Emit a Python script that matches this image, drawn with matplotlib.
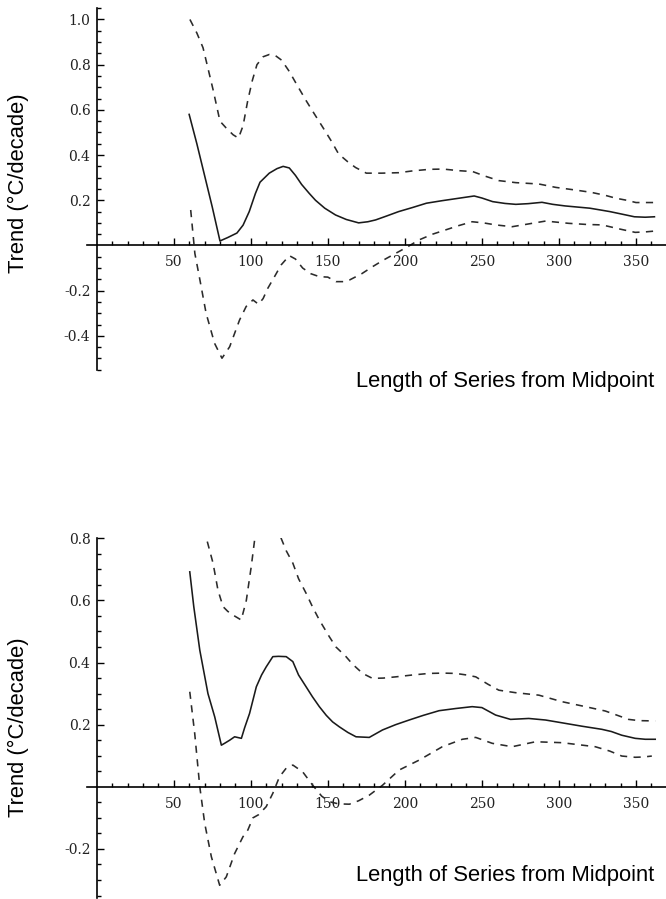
import numpy as np
import matplotlib
matplotlib.use('Agg')
import matplotlib.pyplot as plt
from matplotlib.ticker import FixedLocator, FuncFormatter

# Top panel - trend vs length of series (upper / central / lower estimate)
top_mid_x = [60, 65, 70, 75, 80, 85, 91, 95, 99, 103, 106, 112, 117, 121, 125, 129, 133, 138, 142, 148,
             155, 162, 170, 176, 181, 188, 196, 205, 214, 224, 235, 245, 250, 257, 265, 272, 280, 289,
             296, 304, 312, 320, 327, 333, 340, 349, 356, 362]
top_mid_y = [0.58, 0.45, 0.31, 0.17, 0.02, 0.035, 0.055, 0.09, 0.15, 0.23, 0.28, 0.32, 0.34, 0.35, 0.343,
             0.31, 0.27, 0.23, 0.20, 0.165, 0.135, 0.115, 0.10, 0.105, 0.113, 0.13, 0.15, 0.168, 0.187,
             0.198, 0.209, 0.219, 0.21, 0.194, 0.186, 0.182, 0.185, 0.191, 0.182, 0.175, 0.17, 0.165,
             0.157, 0.15, 0.14, 0.127, 0.125, 0.127]

top_up_x = [60.5, 65, 69, 72, 75.5, 80, 84, 88.5, 92, 95, 98, 101, 104, 108, 112, 116, 120, 125, 130, 136,
            141, 147, 152, 157, 163, 168, 175, 185, 196, 205, 216, 225, 235, 244, 252, 261, 272, 287,
            298, 311, 321, 330, 337, 344, 350, 356, 362]
top_up_y = [1.0, 0.94, 0.875, 0.79, 0.69, 0.55, 0.52, 0.49, 0.475, 0.53, 0.64, 0.73, 0.80, 0.835, 0.845,
            0.84, 0.82, 0.77, 0.71, 0.64, 0.585, 0.52, 0.465, 0.405, 0.37, 0.345, 0.32, 0.32, 0.322,
            0.33, 0.337, 0.338, 0.331, 0.327, 0.307, 0.287, 0.278, 0.272, 0.257, 0.245, 0.235, 0.222,
            0.209, 0.2, 0.19, 0.19, 0.19]

top_lo_x = [61, 63.7, 67, 71, 76.5, 81.3, 86.3, 92.7, 97, 101.4, 105, 108, 111, 115.4, 119.7, 125, 129,
            133.7, 139, 144.5, 150, 155.3, 160, 164, 172, 179, 186, 194, 202, 209, 218, 226.5, 235,
            243.7, 251, 259, 269.6, 280, 291.3, 306.3, 318, 328, 340, 349.5, 356, 362.5]
top_lo_y = [0.157, -0.035, -0.153, -0.30, -0.433, -0.499, -0.448, -0.33, -0.27, -0.241, -0.26, -0.235,
            -0.19, -0.138, -0.086, -0.045, -0.06, -0.10, -0.125, -0.138, -0.14, -0.16, -0.16, -0.153,
            -0.125, -0.094, -0.065, -0.035, -0.005, 0.024, 0.05, 0.069, 0.088, 0.105, 0.10, 0.091,
            0.083, 0.095, 0.108, 0.098, 0.093, 0.091, 0.072, 0.058, 0.06, 0.064]

# Bottom panel
bot_mid_x = [60.4, 63, 66.9, 72.2, 76.6, 80.9, 83, 86.3, 89.5, 93.9, 96, 99.2, 103.6, 107, 110, 114.3,
             118, 123, 127.3, 131, 135.9, 140, 144.5, 149, 153.1, 157.5, 163, 168.3, 176.9, 185.5, 194,
             202.8, 212, 222.2, 233, 243.7, 250, 258.9, 268.6, 280.4, 291.3, 302, 315, 327.9, 334,
             340.8, 349.5, 356, 362.5]
bot_mid_y = [0.692, 0.58, 0.44, 0.30, 0.225, 0.134, 0.14, 0.15, 0.161, 0.156, 0.19, 0.236, 0.322, 0.36,
             0.386, 0.419, 0.42, 0.419, 0.403, 0.36, 0.322, 0.29, 0.258, 0.23, 0.209, 0.193, 0.175,
             0.161, 0.159, 0.183, 0.2, 0.215, 0.23, 0.245, 0.252, 0.258, 0.255, 0.231, 0.217, 0.22,
             0.215, 0.206, 0.195, 0.185, 0.178, 0.166, 0.156, 0.153, 0.153]

bot_up_x = [60, 66, 71.2, 75.5, 78.7, 82, 85, 88.4, 93.8, 97.1, 100.3, 102.5, 106, 110, 114, 119.7, 123,
            127.3, 131, 135.9, 140, 144.5, 151, 155.3, 161.8, 166, 172.6, 179, 186, 194.2, 205, 215.7,
            225, 233, 240, 246, 254, 261, 271.8, 287, 302, 317.2, 330.1, 338, 345.2, 352, 362.5]
bot_up_y = [1.0, 0.9, 0.8, 0.72, 0.633, 0.58, 0.565, 0.553, 0.537, 0.60, 0.709, 0.795, 0.89, 0.93, 0.9,
            0.80, 0.76, 0.72, 0.67, 0.623, 0.58, 0.537, 0.483, 0.45, 0.419, 0.395, 0.365, 0.349, 0.35,
            0.354, 0.36, 0.365, 0.366, 0.365, 0.36, 0.354, 0.33, 0.311, 0.303, 0.295, 0.274, 0.258,
            0.244, 0.23, 0.217, 0.213, 0.212]

bot_lo_x = [60.4, 63.6, 66.9, 70.1, 74.4, 79.8, 84.1, 89.5, 94.9, 98.1, 101.4, 105, 110, 114.3, 118.6,
            123, 127.3, 133.7, 140.2, 146, 151, 157, 164, 170, 176.9, 185.5, 196.3, 209.3, 224.3, 237.3,
            246, 256.7, 269.6, 284.8, 302, 323.6, 333, 340.8, 349.5, 355, 360.3]
bot_lo_y = [0.306, 0.172, 0.0, -0.118, -0.225, -0.317, -0.29, -0.215, -0.161, -0.139, -0.1, -0.09,
            -0.064, -0.021, 0.032, 0.06, 0.07, 0.048, 0.005, -0.03, -0.048, -0.055, -0.056, -0.045,
            -0.027, 0.005, 0.054, 0.086, 0.129, 0.153, 0.159, 0.14, 0.129, 0.145, 0.142, 0.129, 0.115,
            0.099, 0.095, 0.096, 0.099]

x_major = [50, 100, 150, 200, 250, 300, 350]
x_minor = [v for v in range(10, 361, 10) if v % 50 != 0]

W, H = 666, 899
fig = plt.figure(figsize=(W / 100, H / 100), dpi=100)


def make_axes(top_px, bottom_px, ylim, y_major):
    left_px = 86.7
    ax = fig.add_axes([left_px / W, 1 - bottom_px / H, 1 - left_px / W, (bottom_px - top_px) / H])
    ax.patch.set_alpha(0)
    ax.set_xlim(-6.5, 369.5)
    ax.set_ylim(*ylim)
    ax.spines['top'].set_visible(False)
    ax.spines['right'].set_visible(False)
    ax.spines['left'].set_position(('data', 0))
    ax.spines['bottom'].set_position(('data', 0))
    ax.spines['left'].set_linewidth(1.2)
    ax.spines['bottom'].set_linewidth(1.2)
    # Mathematica style ticks: pointing into the plot, minor every 10 / 0.05
    y_minor = [round(v, 2) for v in np.arange(-0.55, 1.06, 0.05)
               if ylim[0] - 1e-6 <= v <= ylim[1] + 1e-6 and abs(v) > 1e-6
               and min(abs(v - m) for m in y_major) > 1e-6]
    ax.xaxis.set_major_locator(FixedLocator(x_major))
    ax.xaxis.set_minor_locator(FixedLocator(x_minor))
    ax.yaxis.set_major_locator(FixedLocator(y_major))
    ax.yaxis.set_minor_locator(FixedLocator(y_minor))
    ax.yaxis.set_major_formatter(FuncFormatter(lambda v, p: '%.1f' % v))
    ax.tick_params(which='both', direction='in', width=1.0, colors='black')
    ax.tick_params(which='major', length=5.2)
    ax.tick_params(which='minor', length=3)
    ax.tick_params(axis='x', which='major', pad=7)
    ax.tick_params(axis='y', which='major', pad=4.5)
    for lab in ax.get_xticklabels() + ax.get_yticklabels():
        lab.set_fontfamily('DejaVu Serif')
        lab.set_fontsize(10)
        lab.set_color('#222222')
    return ax


def draw(ax, mid_x, mid_y, up_x, up_y, lo_x, lo_y):
    ax.plot(mid_x, mid_y, color='#1a1a1a', lw=1.15)
    ax.plot(up_x, up_y, color='#2b2b2b', lw=1.15, dashes=(4.5, 4))
    ax.plot(lo_x, lo_y, color='#2b2b2b', lw=1.15, dashes=(4.5, 4))


ax1 = make_axes(7.5, 370, (-0.551, 1.053), [-0.4, -0.2, 0.2, 0.4, 0.6, 0.8, 1.0])
draw(ax1, top_mid_x, top_mid_y, top_up_x, top_up_y, top_lo_x, top_lo_y)

ax2 = make_axes(538.3, 898, (-0.358, 0.8), [-0.2, 0.2, 0.4, 0.6, 0.8])
draw(ax2, bot_mid_x, bot_mid_y, bot_up_x, bot_up_y, bot_lo_x, bot_lo_y)

# Axis titles placed like the original figure
lab_font = dict(family='Liberation Sans', fontsize=15.8, color='black')
fig.text(18 / W, 1 - 183 / H, 'Trend (°C/decade)', rotation=90, ha='center', va='center', **lab_font)
fig.text(18 / W, 1 - 727 / H, 'Trend (°C/decade)', rotation=90, ha='center', va='center', **lab_font)
fig.text(505 / W, 1 - 382 / H, 'Length of Series from Midpoint', ha='center', va='center', **lab_font)
fig.text(505 / W, 1 - 876 / H, 'Length of Series from Midpoint', ha='center', va='center', **lab_font)

fig.savefig('out.png', dpi=100)
